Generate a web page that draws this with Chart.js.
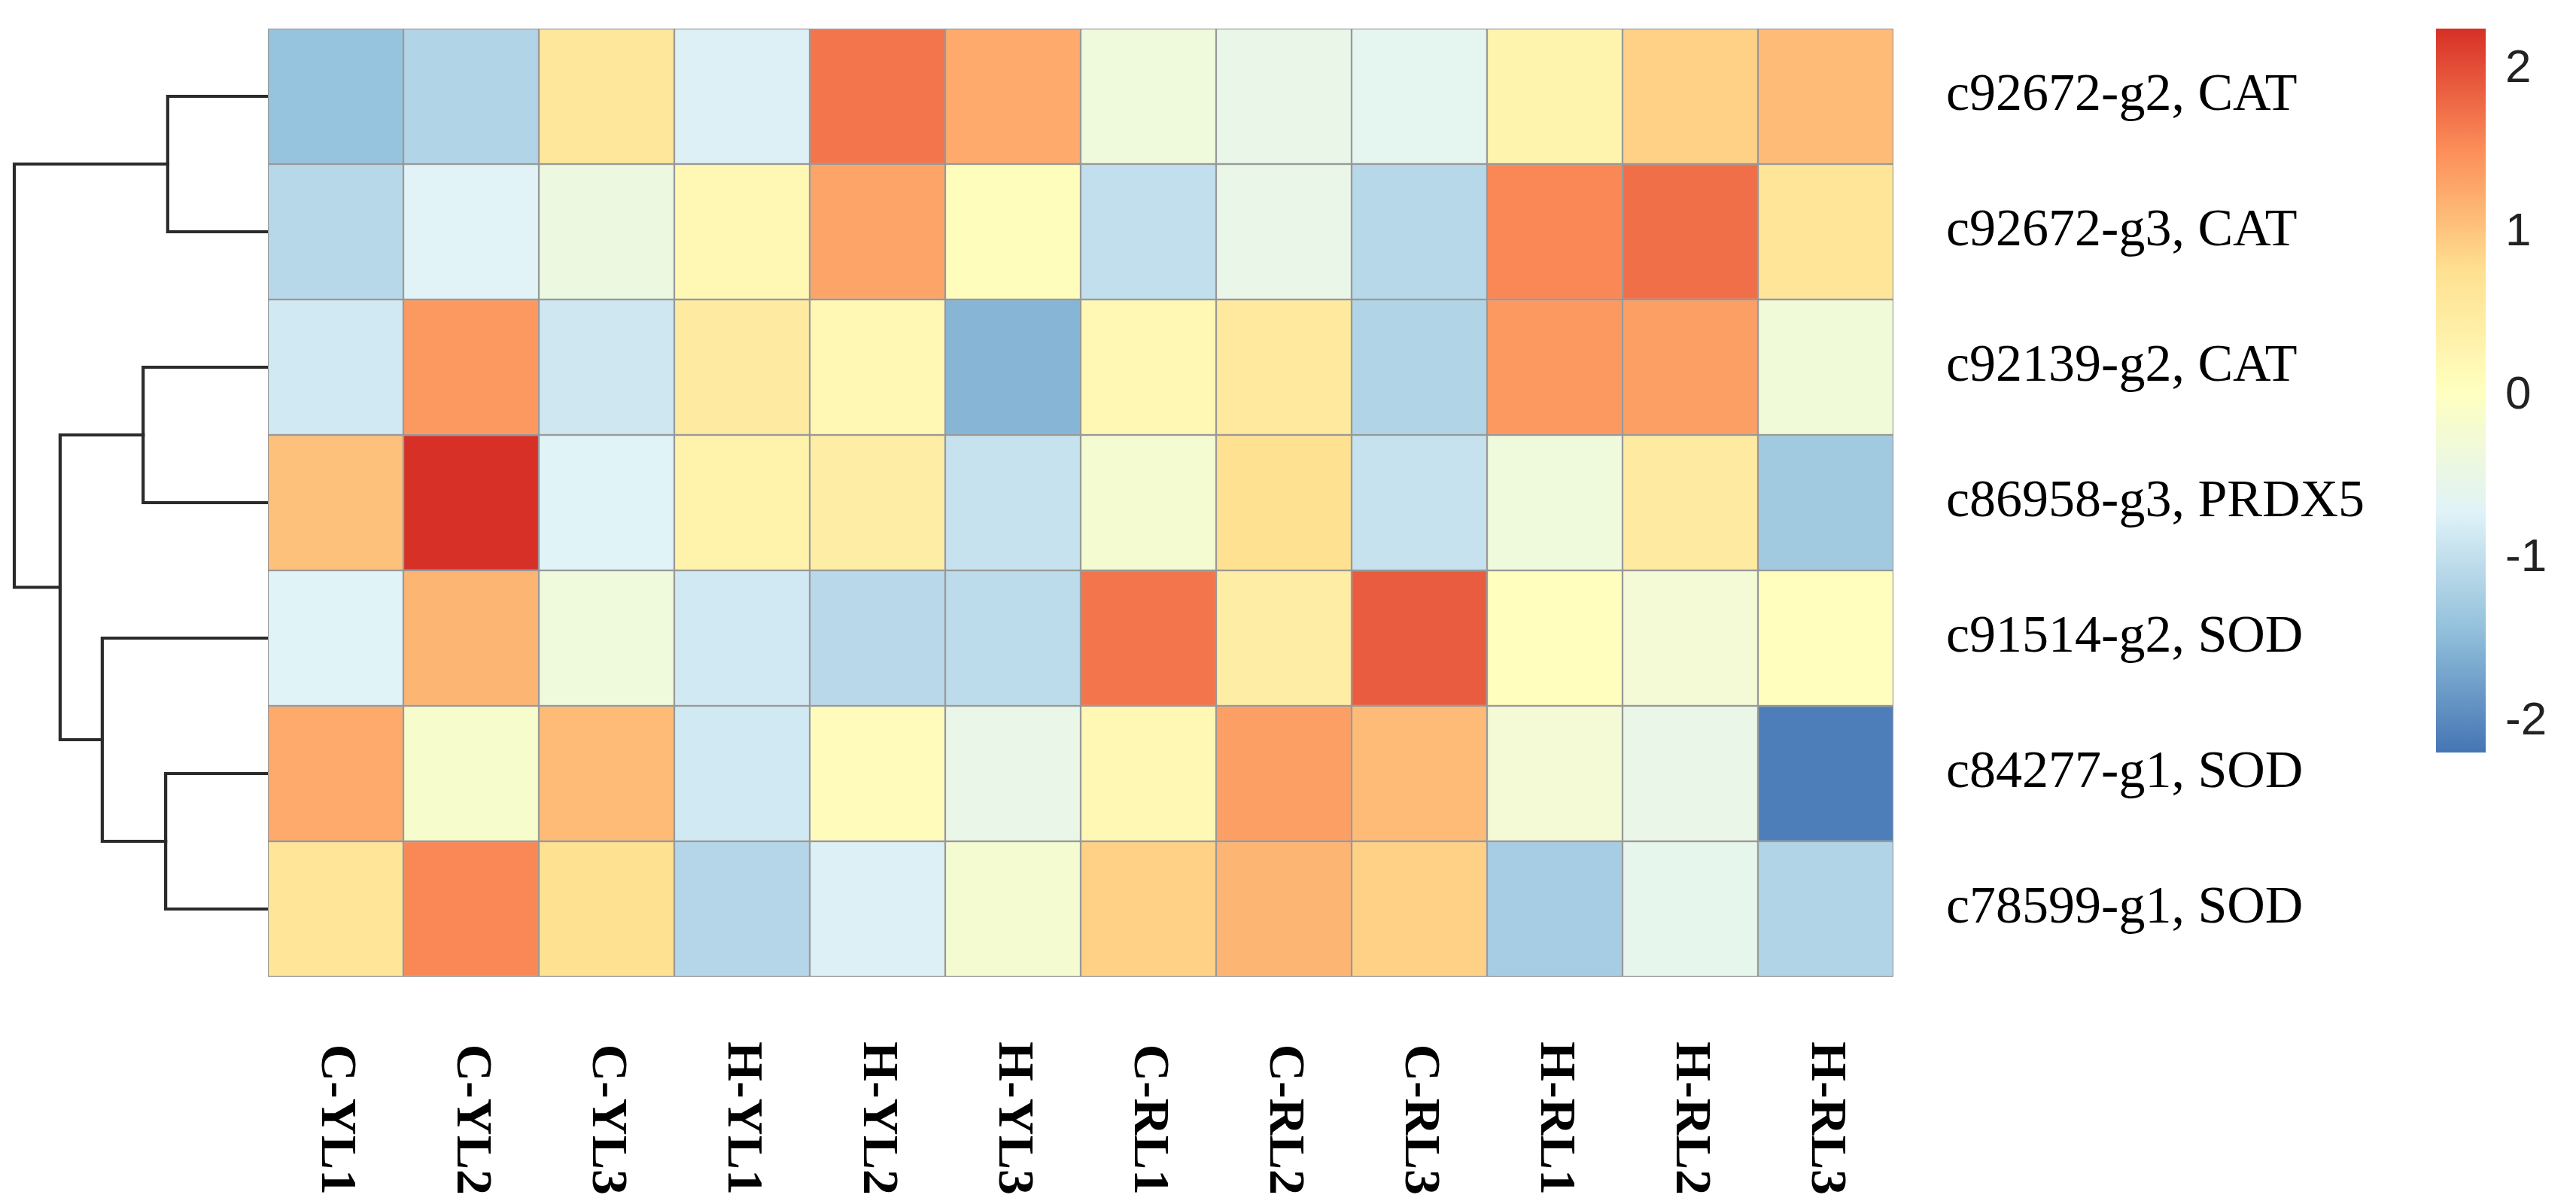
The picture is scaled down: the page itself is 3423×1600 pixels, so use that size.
<!DOCTYPE html>
<html>
<head>
<meta charset="utf-8">
<script src="https://cdn.jsdelivr.net/npm/chart.js@4.4.1/dist/chart.umd.min.js"></script>
<style>
  html, body { margin: 0; padding: 0; background: #fff; }
  body { width: 3423px; height: 1600px; position: relative; overflow: hidden; }
  canvas { position: absolute; }
  #dendro { left: 0px; top: 38px; }
  #heat { left: 356px; top: 38px; }
  #legend { left: 3237px; top: 38px; }
</style>
</head>
<body>
<canvas id="dendro" width="356" height="1260"></canvas>
<canvas id="heat" width="2860" height="1562"></canvas>
<canvas id="legend" width="186" height="962"></canvas>
<script>
// columns (samples) and rows (genes), top to bottom as drawn
const sampleLabels = ['C-YL1', 'C-YL2', 'C-YL3', 'H-YL1', 'H-YL2', 'H-YL3',
                      'C-RL1', 'C-RL2', 'C-RL3', 'H-RL1', 'H-RL2', 'H-RL3'];
const geneLabels = ['c92672-g2, CAT', 'c92672-g3, CAT', 'c92139-g2, CAT', 'c86958-g3, PRDX5',
                    'c91514-g2, SOD', 'c84277-g1, SOD', 'c78599-g1, SOD'];

// scaled expression (z-score) per gene
const c92672_g2 = [-1.40, -1.15, 0.60, -0.75, 1.70, 1.25, -0.35, -0.50, -0.60, 0.30, 0.90, 1.10];
const c92672_g3 = [-1.10, -0.68, -0.40, 0.20, 1.30, 0.07, -1.00, -0.50, -1.10, 1.55, 1.75, 0.65];
const c92139_g2 = [-0.85, 1.40, -0.88, 0.50, 0.20, -1.55, 0.20, 0.55, -1.15, 1.40, 1.35, -0.30];
const c86958_g3 = [1.05, 2.25, -0.70, 0.35, 0.45, -0.95, -0.20, 0.75, -0.95, -0.35, 0.50, -1.30];
const c91514_g2 = [-0.70, 1.15, -0.35, -0.85, -1.08, -1.05, 1.70, 0.45, 1.90, 0.05, -0.25, 0.05];
const c84277_g1 = [1.25, -0.15, 1.10, -0.85, 0.10, -0.50, 0.20, 1.35, 1.10, -0.25, -0.50, -2.10];
const c78599_g1 = [0.65, 1.55, 0.75, -1.12, -0.75, -0.20, 0.90, 1.15, 0.90, -1.25, -0.55, -1.15];
const geneRows = [c92672_g2, c92672_g3, c92139_g2, c86958_g3, c91514_g2, c84277_g1, c78599_g1];

// row dendrogram, hclust style: negative = leaf (row number), positive = earlier merge
const dendroMerge = [[-1, -2], [-6, -7], [-3, -4], [-5, 2], [3, 4], [1, 5]];
const dendroHeight = [2.45, 2.50, 3.05, 4.05, 5.08, 6.20];

// colour key
const palette = ['#4575B4', '#91BFDB', '#E0F3F8', '#FFFFBF', '#FEE090', '#FC8D59', '#D73027'];
const keyMin = -2.19;
const keyMax = 2.25;
const keyTicks = [-2, -1, 0, 1, 2];

Chart.defaults.font.family = 'Liberation Serif';
Chart.defaults.color = '#000';

function hexToRgb(h) {
    return [parseInt(h.slice(1, 3), 16), parseInt(h.slice(3, 5), 16), parseInt(h.slice(5, 7), 16)];
}
function colourFor(v) {
    let t = (v - keyMin) / (keyMax - keyMin);
    t = Math.max(0, Math.min(1, t)) * (palette.length - 1);
    const i = Math.min(Math.floor(t), palette.length - 2);
    const f = t - i;
    const a = hexToRgb(palette[i]);
    const b = hexToRgb(palette[i + 1]);
    const c = a.map((x, k) => Math.round(x + (b[k] - x) * f));
    return 'rgb(' + c.join(',') + ')';
}
// tick padding would otherwise also shrink the plot area
function noPadding(scale) {
    scale.paddingLeft = 0;
    scale.paddingRight = 0;
    scale.paddingTop = 0;
    scale.paddingBottom = 0;
}

// ---------- heatmap ----------
const heatDatasets = geneRows.map(function (row, i) {
    return {
        label: geneLabels[i],
        data: row.map(() => [i, i + 1]),
        backgroundColor: row.map(colourFor),
        borderColor: '#999',
        borderWidth: 1.5,
        borderSkipped: false,
        grouped: false,
        barPercentage: 1,
        categoryPercentage: 1
    };
});

new Chart(document.getElementById('heat'), {
    type: 'bar',
    data: { labels: sampleLabels, datasets: heatDatasets },
    options: {
        responsive: false,
        animation: false,
        devicePixelRatio: 1,
        layout: { padding: 0 },
        plugins: { legend: { display: false }, tooltip: { enabled: false } },
        scales: {
            x: {
                grid: { display: false, drawTicks: false },
                border: { display: false },
                ticks: {
                    autoSkip: false,
                    minRotation: -90,
                    maxRotation: -90,
                    padding: 290,
                    font: { family: 'Liberation Serif', size: 68, weight: 'bold' }
                },
                afterFit: function (scale) { scale.height = 302; noPadding(scale); }
            },
            y: {
                position: 'right',
                min: 0,
                max: geneLabels.length,
                reverse: true,
                grid: { display: false, drawTicks: false },
                border: { display: false },
                afterBuildTicks: function (scale) {
                    scale.ticks = geneLabels.map((_, i) => ({ value: i + 0.5 }));
                },
                ticks: {
                    padding: 70,
                    font: { family: 'Liberation Serif', size: 70 },
                    callback: function (value) { return geneLabels[Math.floor(value)]; }
                },
                afterFit: function (scale) { scale.width = 700; noPadding(scale); }
            }
        }
    }
});

// ---------- dendrogram ----------
const nodeY = [];
const nodeH = [];
const dendroDatasets = dendroMerge.map(function (pair, k) {
    const pos = pair.map(function (m) {
        if (m < 0) return { y: -m - 0.5, h: 0 };
        return { y: nodeY[m - 1], h: nodeH[m - 1] };
    });
    const h = dendroHeight[k];
    nodeY.push((pos[0].y + pos[1].y) / 2);
    nodeH.push(h);
    return {
        data: [
            { x: pos[0].h, y: pos[0].y },
            { x: h, y: pos[0].y },
            { x: h, y: pos[1].y },
            { x: pos[1].h, y: pos[1].y }
        ],
        showLine: true,
        borderColor: '#2b2b2b',
        borderWidth: 4.2,
        borderCapStyle: 'square',
        pointRadius: 0,
        fill: false,
        tension: 0,
        clip: false
    };
});

new Chart(document.getElementById('dendro'), {
    type: 'scatter',
    data: { datasets: dendroDatasets },
    options: {
        responsive: false,
        animation: false,
        devicePixelRatio: 1,
        layout: { padding: 0 },
        plugins: { legend: { display: false }, tooltip: { enabled: false } },
        scales: {
            x: { display: false, min: 0, max: 6.55, reverse: true },
            y: { display: false, min: 0, max: geneLabels.length, reverse: true }
        }
    }
});

// ---------- colour key ----------
new Chart(document.getElementById('legend'), {
    type: 'bar',
    data: {
        labels: ['key'],
        datasets: [{
            data: [[keyMin, keyMax]],
            backgroundColor: function (context) {
                const area = context.chart.chartArea;
                if (!area) return palette[3];
                const g = context.chart.ctx.createLinearGradient(0, area.bottom, 0, area.top);
                palette.forEach((c, i) => g.addColorStop(i / (palette.length - 1), c));
                return g;
            },
            borderWidth: 0,
            barPercentage: 1,
            categoryPercentage: 1
        }]
    },
    options: {
        responsive: false,
        animation: false,
        devicePixelRatio: 1,
        layout: { padding: 0 },
        plugins: { legend: { display: false }, tooltip: { enabled: false } },
        scales: {
            x: { display: false },
            y: {
                position: 'right',
                min: keyMin,
                max: keyMax,
                grid: { display: false, drawTicks: false },
                border: { display: false },
                afterBuildTicks: function (scale) {
                    scale.ticks = keyTicks.map(v => ({ value: v }));
                },
                ticks: {
                    padding: 26,
                    color: '#222',
                    font: { family: 'Liberation Sans', size: 62 }
                },
                afterFit: function (scale) { scale.width = 120; noPadding(scale); }
            }
        }
    }
});
</script>
</body>
</html>
